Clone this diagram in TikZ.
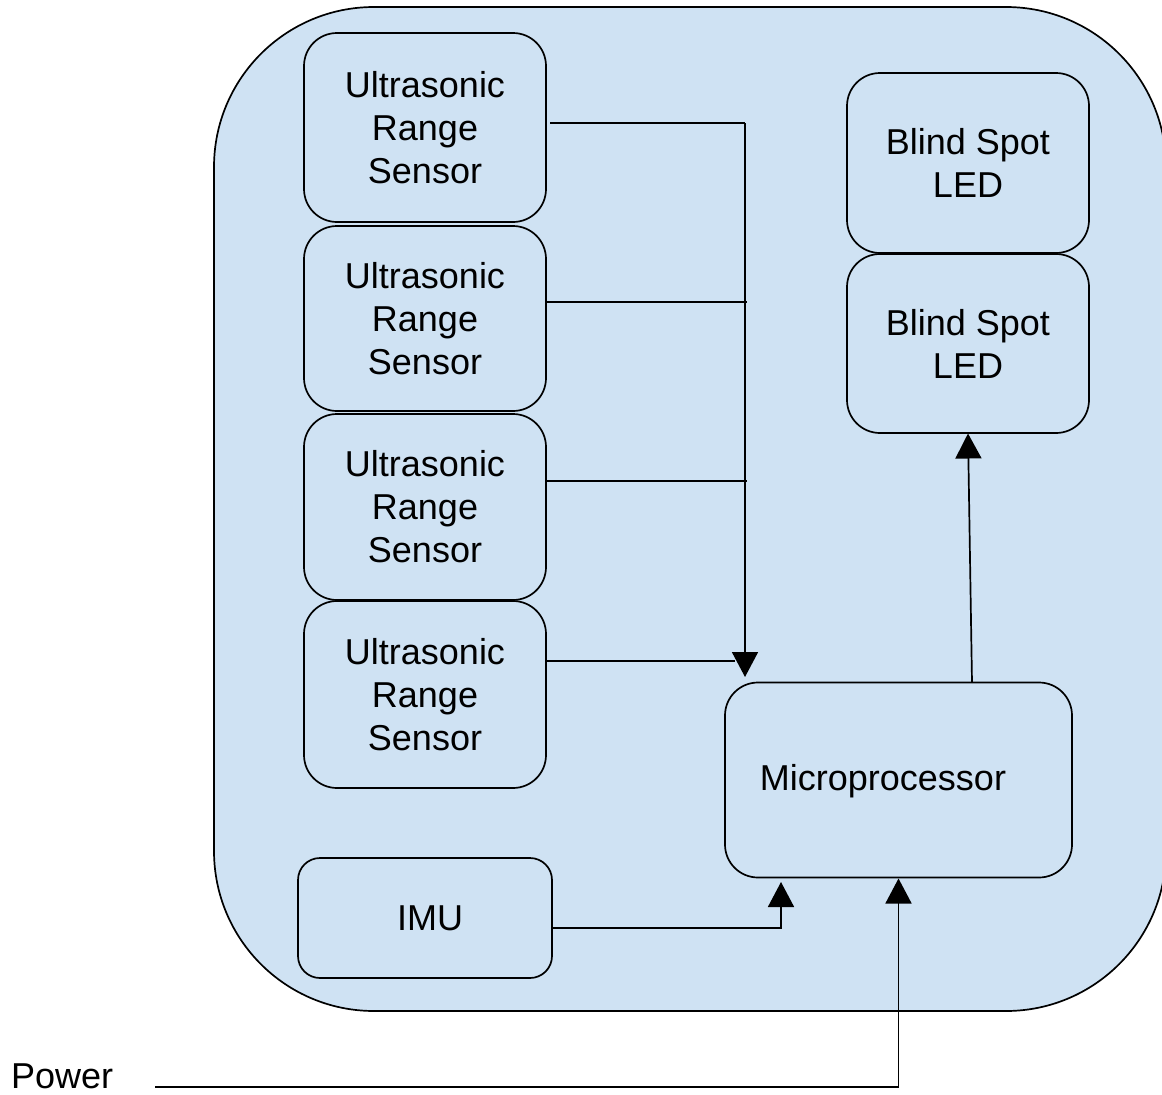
\documentclass[tikz,border=0pt]{standalone}
\usepackage{fontspec}
\setmainfont{Liberation Sans}
\usetikzlibrary{arrows.meta}
\definecolor{panelblue}{HTML}{CFE2F3}
\tikzset{
  unitbox/.style={draw=black, line width=1.7pt, fill=panelblue, rounded corners=33pt,
    inner sep=0pt, outer sep=0pt, align=center,
    font=\fontsize{36}{43}\selectfont},
  wire/.style={draw=black, line width=1.7pt},
  arrowwire/.style={wire, -{Triangle[length=25pt,width=26pt]}},
  caption/.style={inner sep=0pt, font=\fontsize{36}{43}\selectfont}
}
\begin{document}
\begin{tikzpicture}[x=1pt, y=-1pt]
\useasboundingbox (0,0) rectangle (1162,1095);
\clip (0,0) rectangle (1162,1095);

% enclosure
\draw[fill=panelblue, line width=1.7pt, rounded corners=160pt] (214,7) rectangle (1166,1011);

% sensors
\node[unitbox, minimum width=242pt, minimum height=189pt] (us1) at (425,127.5) {Ultrasonic\\Range\\Sensor};
\node[unitbox, minimum width=242pt, minimum height=185pt] (us2) at (425,318.5) {Ultrasonic\\Range\\Sensor};
\node[unitbox, minimum width=242pt, minimum height=186pt] (us3) at (425,507) {Ultrasonic\\Range\\Sensor};
\node[unitbox, minimum width=242pt, minimum height=187pt] (us4) at (425,694.5) {Ultrasonic\\Range\\Sensor};

% IMU
\node[unitbox, minimum width=254pt, minimum height=120pt, rounded corners=22pt] (imu) at (425,918) {};
\node[caption] (imutxt) at (430,918) {IMU};

% LEDs
\node[unitbox, minimum width=242pt, minimum height=180pt] (led1) at (968,163) {Blind Spot\\LED};
\node[unitbox, minimum width=242pt, minimum height=179pt] (led2) at (968,343.5) {Blind Spot\\LED};

% microprocessor
\node[unitbox, minimum width=347pt, minimum height=195pt] (micro) at (898.5,780) {};
\node[caption] (microtxt) at (883,781) {Microprocessor};

% power label
\node[caption, anchor=base west] (pwr) at (11,1088) {Power};

% sensor bus
\coordinate (bustop) at (745,123);
\coordinate (bustip) at (745,677);
\coordinate (j2) at (747,302);
\coordinate (j3) at (747,481);
\coordinate (j4) at (735,661);
\draw[wire] ([xshift=4pt]us1.east |- bustop) -- (bustop);
\draw[arrowwire] (bustop) -- (bustip);
\draw[wire] (us2.east |- j2) -- (j2);
\draw[wire] (us3.east |- j3) -- (j3);
\draw[wire] (us4.east |- j4) -- (j4);

% microprocessor to LED
\draw[arrowwire] ([xshift=73.5pt]micro.north) -- ([yshift=-0.5pt]led2.south);

% IMU to microprocessor
\coordinate (imubend) at (781,928);
\draw[arrowwire] (imu.east |- imubend) -- (imubend) -- (imubend |- 0,882);

% power feed
\coordinate (pwrstart) at (155,1087);
\draw[arrowwire] (pwrstart) -- (micro.south |- pwrstart) -- ([yshift=-1pt]micro.south);
\end{tikzpicture}
\end{document}
